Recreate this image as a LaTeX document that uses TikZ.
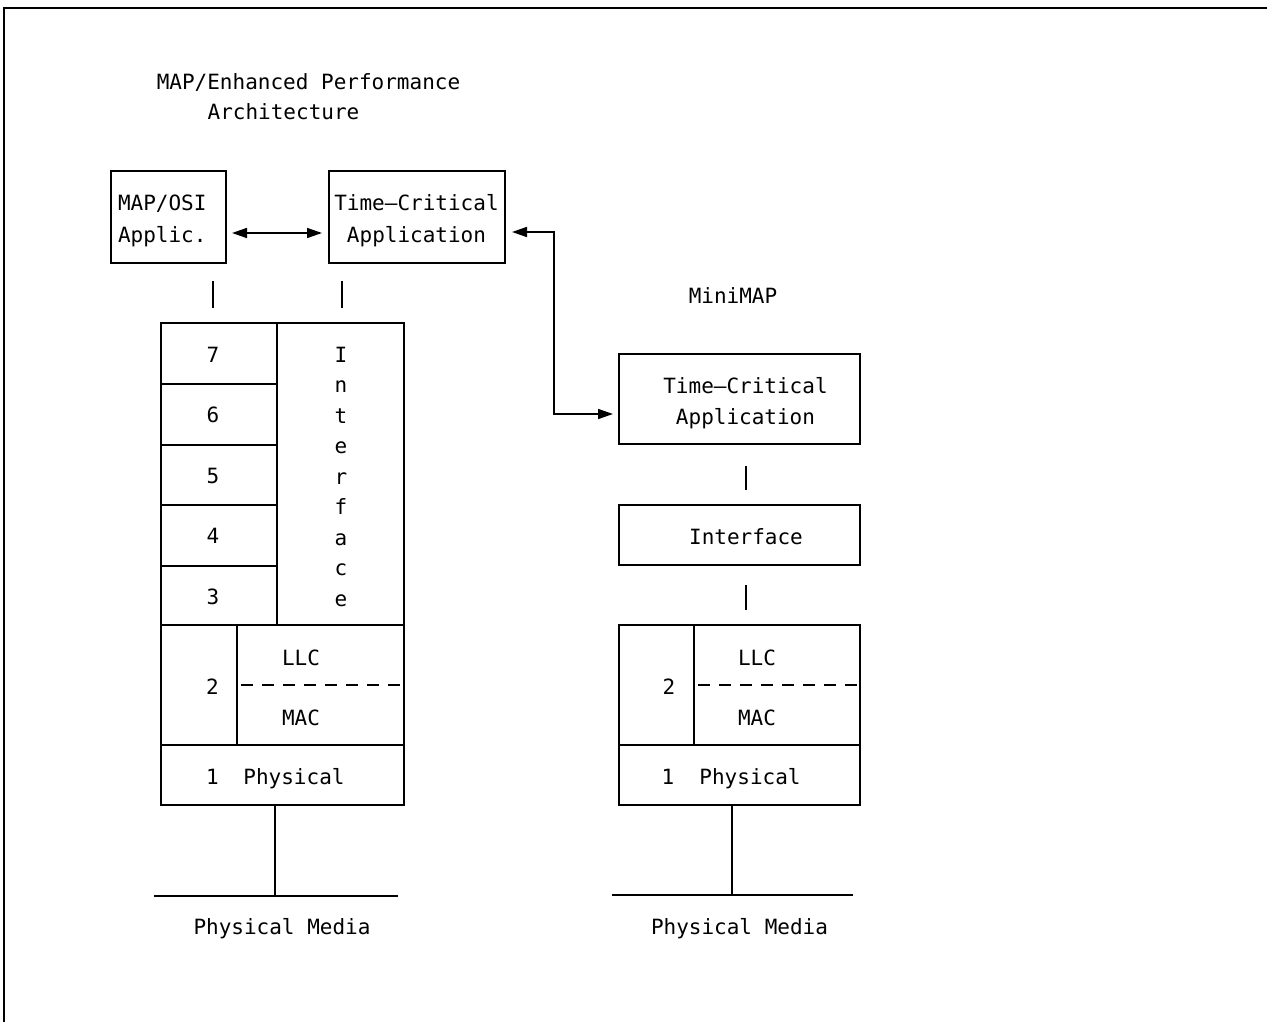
\documentclass[tikz,border=0pt]{standalone}
\usepackage{fontspec}
\setmonofont{DejaVu Sans Mono}
\usetikzlibrary{arrows.meta}
\begin{document}
\begin{tikzpicture}[x=1pt,y=-1pt,
  every node/.style={font=\ttfamily\fontsize{21}{30.5}\selectfont, inner sep=0pt, outer sep=0pt},
  txt/.style={anchor=base},
  bx/.style={draw, line width=1.6pt, rectangle, minimum width=#1},
  ln/.style={line width=1.6pt},
  arr/.style={line width=1.6pt, {Triangle[length=15pt,width=10pt]}-{Triangle[length=15pt,width=10pt]}}]
\useasboundingbox (0,0) rectangle (1267,1022);
% frame (top and left edges)
\draw[ln] (1267,8) -- (4,8) -- (4,1022);

% title
\node[txt] (t1) at (308.5,90) {MAP/Enhanced Performance};
\node[txt] (t2) at (283.5,120) {Architecture};

% top applications
\node[bx=115pt, minimum height=92pt] (mapA) at (168.5,217) {};
\node[txt, anchor=base west] (mapA1) at (118,211) {MAP/OSI};
\node[txt, anchor=base west] (mapA2) at (118,242) {Applic.};
\node[bx=176pt, minimum height=92pt] (tcA) at (417,217) {};
\node[txt] (tcA1) at (416.5,211) {Time–Critical};
\node[txt] (tcA2) at (416.5,242) {Application};

% left stack
\node[bx=116pt, minimum height=61pt] (L7) at (219,353.5) {};
\node[bx=116pt, minimum height=61pt] (L6) at (219,414.5) {};
\node[bx=116pt, minimum height=60pt] (L5) at (219,475) {};
\node[bx=116pt, minimum height=61pt] (L4) at (219,535.5) {};
\node[bx=116pt, minimum height=59pt] (L3) at (219,595.5) {};
\node[bx=127pt, minimum height=302pt] (IfL) at (340.5,474) {};
\node[bx=76pt, minimum height=120pt] (L2) at (199,685) {};
\node[bx=167pt, minimum height=120pt] (LM) at (320.5,685) {};
\node[bx=243pt, minimum height=60pt] (L1) at (282.5,775) {};

\node[txt] (n7) at (213,362) {7};
\node[txt] (n6) at (213,422.5) {6};
\node[txt] (n5) at (213,483) {5};
\node[txt] (n4) at (213,543.5) {4};
\node[txt] (n3) at (213,604) {3};
\foreach \c [count=\i from 0] in {I,n,t,e,r,f,a,c,e}
  \node[txt] (ifl\i) at (341,362+\i*30.5) {\c};
\node[txt] (n2) at (212.5,694) {2};
\node[txt] (llcL) at (301,665) {LLC};
\node[txt] (macL) at (301,725) {MAC};
\node[txt] (n1) at (212.5,784) {1};
\node[txt] (physL) at (294,784) {Physical};
\draw[line width=1.6pt, dash pattern=on 12pt off 9pt, dash phase=-4pt] (LM.west) -- (LM.east);

% connectors left
\coordinate (va1) at (213,281);
\coordinate (va2) at (213,308);
\coordinate (vb1) at (342,281);
\coordinate (vb2) at (342,308);
\draw[ln] (va1) -- (va2);
\draw[ln] (vb1) -- (vb2);
\draw[arr, shorten <=6pt, shorten >=7pt] ([yshift=-16pt]mapA.east) -- ([yshift=-16pt]tcA.east -| tcA.west);
\coordinate (mL1) at (154,896);
\coordinate (mL2) at (398,896);
\coordinate (mLc) at (275,896);
\draw[ln] (mL1) -- (mL2);
\draw[ln] (mLc |- L1.south) -- (mLc);
\node[txt] (pmL) at (282,934) {Physical Media};

% right side
\node[txt] (mini) at (733,303) {MiniMAP};
\node[bx=241pt, minimum height=90pt] (tcB) at (739.5,399) {};
\node[txt] (tcB1) at (745.5,393) {Time–Critical};
\node[txt] (tcB2) at (745.5,424.5) {Application};
\node[bx=241pt, minimum height=60pt] (ifB) at (739.5,535) {};
\node[txt] (ifBt) at (746,544) {Interface};
\node[bx=75pt, minimum height=120pt] (R2) at (656.5,685) {};
\node[bx=166pt, minimum height=120pt] (RM) at (777,685) {};
\node[bx=241pt, minimum height=60pt] (R1) at (739.5,775) {};
\node[txt] (r2) at (669,694) {2};
\node[txt] (llcR) at (757,665) {LLC};
\node[txt] (macR) at (757,725) {MAC};
\node[txt] (r1) at (668,784) {1};
\node[txt] (physR) at (750,784) {Physical};
\draw[line width=1.6pt, dash pattern=on 12pt off 9pt, dash phase=-4pt] (RM.west) -- (RM.east);

\coordinate (vc1) at (746,466);
\coordinate (vc2) at (746,490);
\coordinate (vd1) at (746,585);
\coordinate (vd2) at (746,610);
\draw[ln] (vc1) -- (vc2);
\draw[ln] (vd1) -- (vd2);
\coordinate (bend) at (554,232);
\draw[arr, shorten <=7pt, shorten >=6pt] (tcA.east |- bend) -- (bend) |- ([yshift=-15pt]tcB.west);
\coordinate (mR1) at (612,895);
\coordinate (mR2) at (853,895);
\coordinate (mRc) at (732,895);
\draw[ln] (mR1) -- (mR2);
\draw[ln] (mRc |- R1.south) -- (mRc);
\node[txt] (pmR) at (739.5,934) {Physical Media};
\end{tikzpicture}
\end{document}
